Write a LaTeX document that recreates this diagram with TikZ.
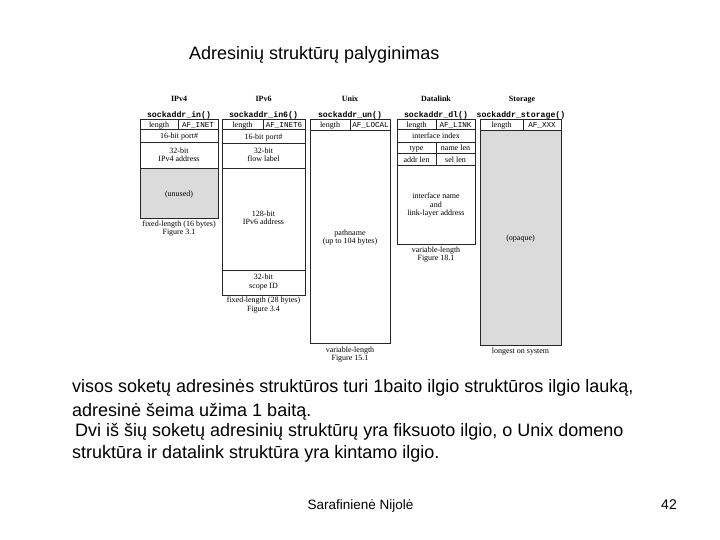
\documentclass[tikz,border=0pt]{standalone}
\usepackage{fontspec}
\setmainfont{Liberation Sans}
\newfontfamily\dserif{Liberation Serif}
\newfontfamily\dmono{Liberation Mono}
\begin{document}
\begin{tikzpicture}[x=1pt,y=-1pt,
 lbl/.style={font=\dserif\fontsize{8}{8.5}\selectfont, inner sep=0pt, text height=1.5ex, text depth=0.35ex},
 lbltwo/.style={font=\dserif\fontsize{8}{8.5}\selectfont, inner sep=0pt, align=center},
 af/.style={font=\dmono\fontsize{7.6}{8}\selectfont, inner sep=0pt, text height=1.5ex, text depth=0.35ex},
 hdr/.style={font=\dserif\bfseries\fontsize{8}{8}\selectfont, inner sep=0pt, text height=1.5ex, text depth=0.35ex},
 sname/.style={font=\dmono\bfseries\fontsize{8.2}{9}\selectfont, inner sep=0pt, text height=1.5ex, text depth=0.35ex},
 cell/.style={draw=black!85, line width=0.8pt},
 shade/.style={fill=black!14},
 body/.style={font=\fontsize{18}{21}\selectfont, inner sep=0pt, anchor=base west},
]
\useasboundingbox (0,0) rectangle (720,540);

% title
\node[font=\fontsize{18}{21}\selectfont, inner sep=0pt, anchor=base west] (title) at (189,59.5) {Adresinių struktūrų palyginimas};

% ---------- IPv4 ----------
\node[hdr] (t4) at (179,98) {IPv4};
\node[sname] (s4) at (179,114) {sockaddr\_in()};
\fill[shade] (140,168) rectangle (218,218);
\draw[cell] (140,119) rectangle (218,218);
\draw[cell] (140,129) -- (218,129) (140,142) -- (218,142) (140,168) -- (218,168) (178,119) -- (178,129);
\node[lbl] (l4a) at (159,124) {length};
\node[af] (l4b) at (198,124) {AF\_INET};
\node[lbl] (l4c) at (179,135.5) {16-bit port\#};
\node[lbltwo] (l4d) at (179,155) {32-bit\\IPv4 address};
\node[lbl] (l4e) at (179,193) {(unused)};
\node[lbl] (c4a) at (179,223.5) {fixed-length (16 bytes)};
\node[lbl] (c4b) at (179,231.5) {Figure 3.1};

% ---------- IPv6 ----------
\node[hdr] (t6) at (263.5,98) {IPv6};
\node[sname] (s6) at (263.5,114) {sockaddr\_in6()};
\draw[cell] (222,119) rectangle (305,295);
\draw[cell] (222,129) -- (305,129) (222,143) -- (305,143) (222,168) -- (305,168) (222,270) -- (305,270) (263,119) -- (263,129);
\node[lbl] (l6a) at (242.5,124) {length};
\node[af] (l6b) at (284,124) {AF\_INET6};
\node[lbl] (l6c) at (263.5,136) {16-bit port\#};
\node[lbltwo] (l6d) at (263.5,155) {32-bit\\flow label};
\node[lbltwo] (l6e) at (263.5,218) {128-bit\\IPv6 address};
\node[lbltwo] (l6f) at (263.5,282) {32-bit\\scope ID};
\node[lbl] (c6a) at (263.5,299.5) {fixed-length (28 bytes)};
\node[lbl] (c6b) at (263.5,308.5) {Figure 3.4};

% ---------- Unix ----------
\node[hdr] (tu) at (350,98) {Unix};
\node[sname] (su) at (350,114) {sockaddr\_un()};
\draw[cell] (310,119) rectangle (390,343);
\draw[cell] (310,130) -- (390,130) (350,119) -- (350,130);
\node[lbl] (lua) at (330,124.5) {length};
\node[af] (lub) at (370.5,124.5) {AF\_LOCAL};
\node[lbltwo] (luc) at (350,237.5) {pathname\\(up to 104 bytes)};
\node[lbl] (cua) at (350,349.5) {variable-length};
\node[lbl] (cub) at (350,357.5) {Figure 15.1};

% ---------- Datalink ----------
\node[hdr] (td) at (436,98) {Datalink};
\node[sname] (sd) at (436,114) {sockaddr\_dl()};
\draw[cell] (397,119) rectangle (475,244);
\draw[cell] (397,129) -- (475,129) (397,142) -- (475,142) (397,153) -- (475,153) (397,165) -- (475,165)
  (436,119) -- (436,129) (436,142) -- (436,165);
\node[lbl] (lda) at (416.5,124) {length};
\node[af] (ldb) at (455.5,124) {AF\_LINK};
\node[lbl] (ldc) at (436,135.5) {interface index};
\node[lbl] (ldd) at (416.5,147.5) {type};
\node[lbl] (lde) at (455.5,147.5) {name len};
\node[lbl] (ldf) at (416.5,159) {addr len};
\node[lbl] (ldg) at (455.5,159) {sel len};
\node[lbltwo] (ldh) at (436,205.5) {interface name\\and\\link-layer address};
\node[lbl] (cda) at (436,249) {variable-length};
\node[lbl] (cdb) at (436,257) {Figure 18.1};

% ---------- Storage ----------
\node[hdr] (ts) at (522,98) {Storage};
\node[sname] (ss) at (521,114) {sockaddr\_storage()};
\fill[shade] (480,130) rectangle (561,345);
\draw[cell] (480,119) rectangle (561,345);
\draw[cell] (480,130) -- (561,130) (523,119) -- (523,130);
\node[lbl] (lsa) at (501.5,124.5) {length};
\node[af] (lsb) at (542,124.5) {AF\_XXX};
\node[lbl] (lsc) at (520.5,237) {(opaque)};
\node[lbl] (csa) at (520.5,350) {longest on system};

% ---------- body text ----------
\node[body] (p1) at (72,392) {visos soketų adresinės struktūros turi 1baito ilgio struktūros ilgio lauką,};
\node[body] (p2) at (72,416) {adresinė šeima užima 1 baitą.};
\node[body] (p3) at (75,436.5) {Dvi iš šių soketų adresinių struktūrų yra fiksuoto ilgio, o Unix domeno};
\node[body] (p4) at (72,458) {struktūra ir datalink struktūra yra kintamo ilgio.};

% ---------- footer ----------
\node[font=\fontsize{13.5}{16}\selectfont, inner sep=0pt, anchor=base] (auth) at (360.5,509) {Sarafinienė Nijolė};
\node[font=\fontsize{14}{16}\selectfont, inner sep=0pt, anchor=base east] (pg) at (677,509) {42};
\end{tikzpicture}
\end{document}
